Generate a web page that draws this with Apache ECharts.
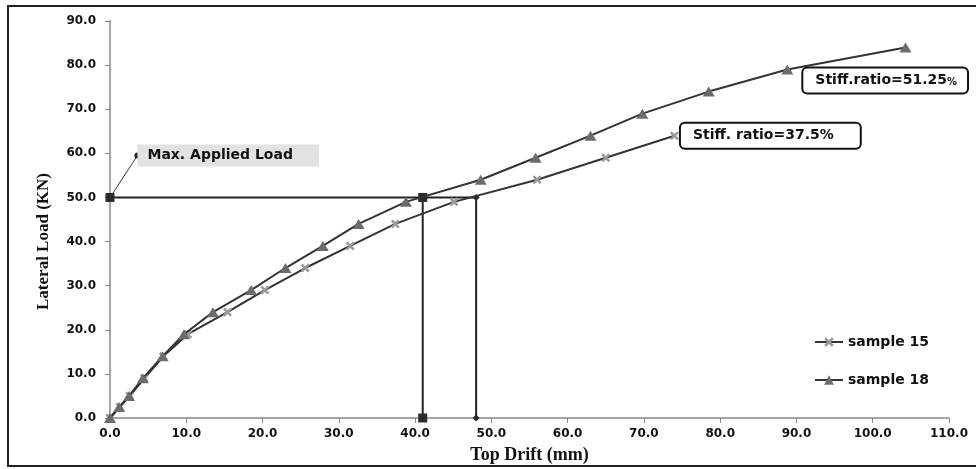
<!DOCTYPE html>
<html><head><meta charset="utf-8">
<script src="https://cdn.jsdelivr.net/npm/echarts@6/dist/echarts.min.js"></script>
<style>html,body{margin:0;padding:0;background:#fff}#c{width:976px;height:469px}</style>
</head><body><div id="c"></div>
<script>
// ---- data ----
const s15x = [0, 1.3, 2.6, 4.5, 7.0, 10.2, 15.4, 20.3, 25.6, 31.5, 37.4, 45.1, 56.0, 65.0, 74.0];
const s15y = [0, 2.5, 5, 9, 14, 19, 24, 29, 34, 39, 44, 49, 54, 59, 64];
const s18x = [0, 1.2, 2.5, 4.3, 6.9, 9.7, 13.5, 18.5, 23.0, 27.9, 32.6, 38.8, 48.6, 55.8, 63.0, 69.8, 78.5, 88.8, 104.3];
const s18y = [0, 2.5, 5, 9, 14, 19, 24, 29, 34, 39, 44, 49, 54, 59, 64, 69, 74, 79, 84];
const maxLoad = 50;
const drift18 = 41;
const drift15 = 48;
const noteAnchor = [3.6, 59.5];
const noteText = 'Max. Applied Load';
const stiff15 = 'Stiff. ratio=37.5%';
const stiff18 = 'Stiff.ratio=51.25';
const seriesNames = ['sample 15', 'sample 18'];
const xMin = 0, xMax = 110, xStep = 10;
const yMin = 0, yMax = 90, yStep = 10;

const zip = (a, b) => a.map((v, i) => [v, b[i]]);
const tickFont = { fontFamily: 'DejaVu Sans', fontWeight: 'bold', fontSize: 12, color: '#111' };
const crossPath = 'path://M2,0 L5,3 L8,0 L10,2 L7,5 L10,8 L8,10 L5,7 L2,10 L0,8 L3,5 L0,2 Z';

const d15 = zip(s15x, s15y).map((p, i, arr) => i === arr.length - 1 ? {
  value: p,
  label: {
    show: true, position: 'right', distance: 2, formatter: stiff15,
    fontFamily: 'DejaVu Sans', fontWeight: 'bold', fontSize: 14, color: '#111',
    borderColor: '#111', borderWidth: 2, borderRadius: 4, padding: [5, 26, 5, 12],
    backgroundColor: '#fff'
  }
} : p);
const d18 = zip(s18x, s18y).map((p, i, arr) => i === arr.length - 2 ? {
  value: p,
  label: {
    show: true, position: 'right', distance: 10, offset: [0, 11],
    formatter: '{a|' + stiff18 + '}{b|%}',
    rich: {
      a: { fontFamily: 'DejaVu Sans', fontWeight: 'bold', fontSize: 14, color: '#111' },
      b: { fontFamily: 'DejaVu Sans', fontWeight: 'bold', fontSize: 10, color: '#111', verticalAlign: 'bottom' }
    },
    borderColor: '#111', borderWidth: 2, borderRadius: 4, padding: [5, 10, 5, 12],
    backgroundColor: '#fff'
  }
} : p);

const chart = echarts.init(document.getElementById('c'), null, { renderer: 'canvas' });
chart.setOption({
  animation: false,
  backgroundColor: '#fff',
  grid: { left: 110, right: 27, top: 21, bottom: 47 },
  graphic: [{
    type: 'rect', shape: { x: 8, y: 6, width: 1000, height: 460 },
    style: { fill: 'none', stroke: '#222', lineWidth: 2 }, silent: true
  }],
  legend: {
    data: seriesNames, orient: 'vertical', left: 809, top: 330, itemGap: 24,
    itemWidth: 28, itemHeight: 12,
    textStyle: { fontFamily: 'DejaVu Sans', fontWeight: 'bold', fontSize: 14, color: '#111' }
  },
  xAxis: {
    type: 'value', min: xMin, max: xMax, interval: xStep,
    name: 'Top Drift (mm)', nameLocation: 'middle', nameGap: 28,
    nameTextStyle: { fontFamily: 'Liberation Serif', fontWeight: 'bold', fontSize: 18, color: '#111' },
    axisLine: { lineStyle: { color: '#8a8a8a', width: 1.5 } },
    axisTick: { show: true, inside: false, length: 5, lineStyle: { color: '#8a8a8a' } },
    axisLabel: Object.assign({ margin: 10, formatter: v => v.toFixed(1) }, tickFont),
    splitLine: { show: false }
  },
  yAxis: {
    type: 'value', min: yMin, max: yMax, interval: yStep,
    name: 'Lateral Load (KN)', nameLocation: 'middle', nameGap: 58, nameRotate: 90,
    nameTextStyle: { fontFamily: 'Liberation Serif', fontWeight: 'bold', fontSize: 17, color: '#111', padding: [0, 44, 0, 0] },
    axisLine: { show: true, lineStyle: { color: '#8a8a8a', width: 1.5 } },
    axisTick: { show: true, inside: false, length: 5, lineStyle: { color: '#8a8a8a' } },
    axisLabel: Object.assign({ margin: 14, formatter: v => v.toFixed(1) }, tickFont),
    splitLine: { show: false }
  },
  series: [
    {
      name: 'load line 18', type: 'line', clip: false, z: 3,
      data: [[xMin, maxLoad], [drift18, maxLoad], [drift18, yMin]],
      symbol: 'rect', symbolSize: 9, showAllSymbol: true,
      lineStyle: { color: '#222', width: 2 }, itemStyle: { color: '#2a2a2a' }
    },
    {
      name: 'load line 15', type: 'line', clip: false, z: 3,
      data: [{ value: [drift18, maxLoad], symbol: 'none' }, [drift15, maxLoad], [drift15, yMin]],
      symbol: 'diamond', symbolSize: 7,
      lineStyle: { color: '#222', width: 2 }, itemStyle: { color: '#2a2a2a' }
    },
    {
      name: 'note', type: 'line', clip: false, z: 4,
      data: [{ value: [xMin, maxLoad], symbol: 'none' }, {
        value: noteAnchor,
        label: {
          show: true, position: 'right', distance: -3, formatter: noteText,
          fontFamily: 'DejaVu Sans', fontWeight: 'bold', fontSize: 14, color: '#111',
          backgroundColor: '#e2e2e2', padding: [4, 26, 4, 10]
        }
      }],
      symbol: 'circle', symbolSize: 6,
      lineStyle: { color: '#333', width: 1 }, itemStyle: { color: '#222' }
    },
    {
      name: seriesNames[0], type: 'line', data: d15, clip: false, z: 5,
      symbol: crossPath, symbolSize: 9,
      lineStyle: { color: '#333', width: 2 }, itemStyle: { color: '#9a9a9a' }
    },
    {
      name: seriesNames[1], type: 'line', data: d18, clip: false, z: 6,
      symbol: 'triangle', symbolSize: [12, 10],
      lineStyle: { color: '#333', width: 2 }, itemStyle: { color: '#6c6c6c' }
    }
  ]
});
</script>
</body></html>
